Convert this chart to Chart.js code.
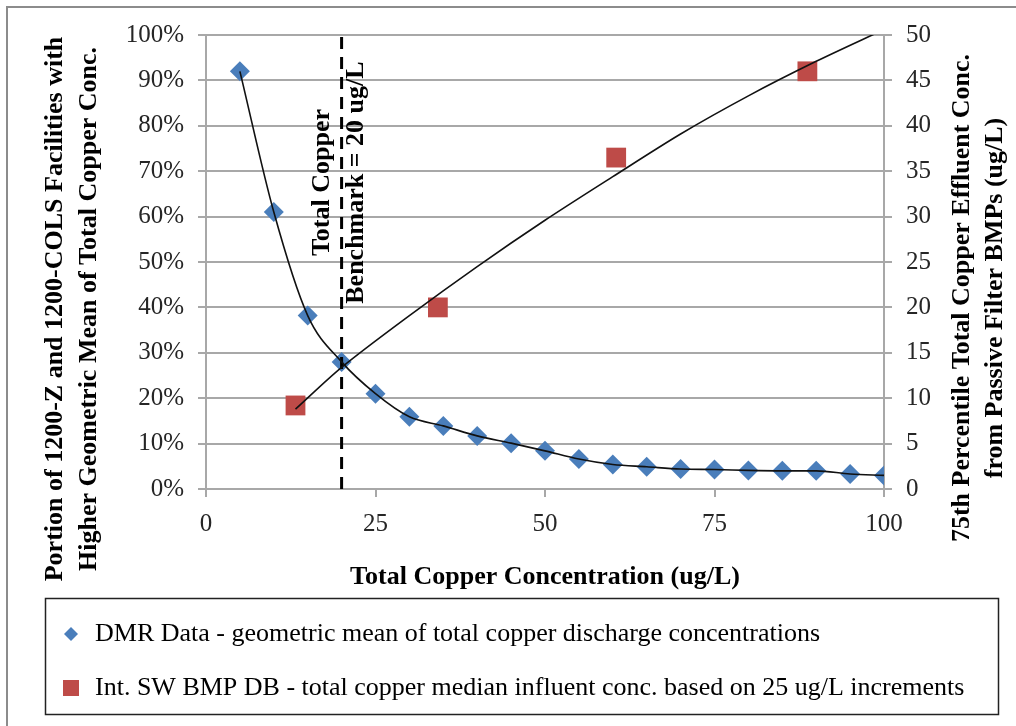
<!DOCTYPE html>
<html>
<head>
<meta charset="utf-8">
<script src="https://cdn.jsdelivr.net/npm/chart.js@4.4.1/dist/chart.umd.min.js"></script>
<style>
	html, body { margin: 0; padding: 0; background: #fff; }
	#wrap { position: relative; width: 1016px; height: 726px; overflow: hidden; }
	#frame { position: absolute; left: 6px; top: 6px; right: -10px; bottom: -10px; border: 2px solid #8c8c8c; pointer-events: none; }
	canvas { display: block; }
</style>
</head>
<body>
<div id="wrap">
	<canvas id="copper_chart" width="1016" height="726"></canvas>
	<div id="frame"></div>
</div>
<script>
// DMR data: geometric mean of total copper (portion of facilities, %).
const dmrX = [5, 10, 15, 20, 25, 30, 35, 40, 45, 50, 55, 60, 65, 70, 75, 80, 85, 90, 95, 100];
const dmrY = [92, 61, 38.2, 28, 21, 15.9, 13.9, 11.7, 10.1, 8.4, 6.6, 5.4, 4.9, 4.4, 4.3, 4.1, 4.0, 4.0, 3.3, 3.0];

// Int. SW BMP DB medians (right axis, ug/L).
const bmpX = [13.2, 34.2, 60.5, 88.7];
const bmpY = [9.2, 20.0, 36.5, 46.0];

// Trend line through the BMP medians.
const trendX = [13.2, 20, 30, 40, 50, 60, 70, 80, 90, 100];
const trendY = [8.8, 13.4, 19.1, 24.5, 29.6, 34.4, 39.1, 43.3, 47.1, 50.6];

// Benchmark line at 20 ug/L.
const benchmarkX = [20, 20];
const benchmarkY = [0, 100];

const leftTitle = ['Portion of 1200-Z and 1200-COLS Facilities with', 'Higher Geometric Mean of Total Copper Conc.'];
const rightTitle = ['75th Percentile Total Copper Effluent Conc.', 'from Passive Filter BMPs (ug/L)'];
const benchmarkText = ['Total Copper', 'Benchmark = 20 ug/L'];

const BLUE = '#4A7EBB';
const RED = '#BE4B48';
const GRID = '#a8a8a8';
const TICK_COLOR = '#262626';
const SERIF = "'Liberation Serif', 'Times New Roman', serif";
const TICK_FONT = { family: SERIF, size: 25 };
const BOLD = `bold 26px ${SERIF}`;

const toPoints = (xs, ys) => xs.map((x, i) => ({ x: x, y: ys[i] }));

// Small marker images for the legend (diamond smaller than square, as in Excel).
function legendMarker(kind, size, color) {
	const c = document.createElement('canvas');
	c.width = size;
	c.height = size;
	const g = c.getContext('2d');
	g.fillStyle = color;
	if (kind === 'diamond') {
		g.beginPath();
		g.moveTo(size / 2, 0);
		g.lineTo(size, size / 2);
		g.lineTo(size / 2, size);
		g.lineTo(0, size / 2);
		g.closePath();
		g.fill();
	} else {
		g.fillRect(0, 0, size, size);
	}
	return c;
}
const legendMarkers = [legendMarker('diamond', 14, BLUE), legendMarker('square', 16, RED)];

function rotatedLines(ctx, lines, xs, cy) {
	lines.forEach((line, i) => {
		ctx.save();
		ctx.translate(xs[i], cy);
		ctx.rotate(-Math.PI / 2);
		ctx.fillText(line, 0, 0);
		ctx.restore();
	});
}

const extraText = {
	id: 'extraText',
	afterDatasetsDraw(chart) {
		const { ctx, scales } = chart;
		const bx = scales.x.getPixelForValue(benchmarkX[0]);
		const by = scales.y.getPixelForValue(67.5);
		ctx.save();
		ctx.fillStyle = '#000';
		ctx.textAlign = 'center';
		ctx.textBaseline = 'middle';
		ctx.font = BOLD;
		rotatedLines(ctx, benchmarkText, [bx - 19, bx + 15], by);
		ctx.restore();
	},
	afterDraw(chart) {
		const { ctx, legend } = chart;
		ctx.save();
		ctx.fillStyle = '#000';
		ctx.textAlign = 'center';
		ctx.textBaseline = 'middle';
		ctx.font = BOLD;
		rotatedLines(ctx, leftTitle, [55, 89], 309);
		rotatedLines(ctx, rightTitle, [962, 995], 298);

		// Box round the legend.
		ctx.strokeStyle = '#222';
		ctx.lineWidth = 1.5;
		ctx.strokeRect(45.5, legend.top + 5.5, 953, legend.bottom - legend.top - 2);
		ctx.restore();
	}
};

const ctx = document.getElementById('copper_chart').getContext('2d');
new Chart(ctx, {
	type: 'scatter',
	data: {
		datasets: [{
			label: 'dmr fit',
			data: toPoints(dmrX, dmrY),
			yAxisID: 'y',
			showLine: true,
			borderColor: '#111',
			borderWidth: 1.6,
			pointRadius: 0,
			cubicInterpolationMode: 'monotone',
		}, {
			label: 'bmp fit',
			data: toPoints(trendX, trendY),
			yAxisID: 'y2',
			showLine: true,
			borderColor: '#111',
			borderWidth: 1.6,
			pointRadius: 0,
			tension: 0.3,
		}, {
			label: 'benchmark',
			data: toPoints(benchmarkX, benchmarkY),
			yAxisID: 'y',
			showLine: true,
			borderColor: '#000',
			borderWidth: 3,
			borderDash: [12, 8],
			pointRadius: 0,
		}, {
			label: 'DMR Data - geometric mean of total copper discharge concentrations',
			data: toPoints(dmrX, dmrY),
			yAxisID: 'y',
			pointStyle: 'rectRot',
			pointRadius: 10,
			pointHoverRadius: 10,
			backgroundColor: BLUE,
			borderColor: BLUE,
			borderWidth: 0,
		}, {
			label: 'Int. SW BMP DB - total copper median influent conc. based on 25 ug/L increments',
			data: toPoints(bmpX, bmpY),
			yAxisID: 'y2',
			pointStyle: 'rect',
			pointRadius: 14,
			pointHoverRadius: 14,
			backgroundColor: RED,
			borderColor: RED,
			borderWidth: 0,
		}]
	},
	options: {
		responsive: false,
		animation: false,
		layout: {
			padding: { left: 32, right: 0, top: 35, bottom: 15 }
		},
		scales: {
			x: {
				type: 'linear',
				position: 'bottom',
				min: 0,
				max: 100,
				ticks: { stepSize: 25, font: TICK_FONT, color: TICK_COLOR, padding: 12, maxRotation: 0 },
				grid: { drawOnChartArea: false, color: GRID, lineWidth: 2, tickLength: 8 },
				border: { color: GRID, width: 2 },
				title: {
					display: true,
					text: 'Total Copper Concentration (ug/L)',
					color: '#000',
					font: { family: SERIF, size: 26, weight: 'bold' },
					padding: { top: 0, bottom: 0 }
				},
				afterFit: (scale) => { scale.height = 104; }
			},
			y: {
				type: 'linear',
				position: 'left',
				min: 0,
				max: 100,
				ticks: { stepSize: 10, font: TICK_FONT, color: TICK_COLOR, padding: 14, callback: (v) => v + '%' },
				grid: { color: GRID, lineWidth: 2, tickLength: 8 },
				border: { color: GRID, width: 2 },
				afterFit: (scale) => { scale.width = 206 - 32; }
			},
			y2: {
				type: 'linear',
				position: 'right',
				min: 0,
				max: 50,
				ticks: { stepSize: 5, font: TICK_FONT, color: TICK_COLOR, padding: 14 },
				grid: { drawOnChartArea: false, color: GRID, lineWidth: 2, tickLength: 8 },
				border: { color: GRID, width: 2 },
				afterFit: (scale) => { scale.width = 1016 - 884; }
			}
		},
		plugins: {
			tooltip: { enabled: false },
			legend: {
				position: 'bottom',
				align: 'start',
				labels: {
					usePointStyle: true,
					boxHeight: 16,
					boxWidth: 22,
					padding: 28,
					color: '#000',
					font: { family: SERIF, size: 26 },
					filter: (item) => item.datasetIndex >= 3,
					generateLabels: (chart) => {
						const items = Chart.defaults.plugins.legend.labels.generateLabels(chart);
						items.forEach((item) => {
							if (item.datasetIndex === 3) item.pointStyle = legendMarkers[0];
							if (item.datasetIndex === 4) item.pointStyle = legendMarkers[1];
						});
						return items;
					}
				}
			}
		}
	},
	plugins: [extraText]
});
</script>
</body>
</html>
